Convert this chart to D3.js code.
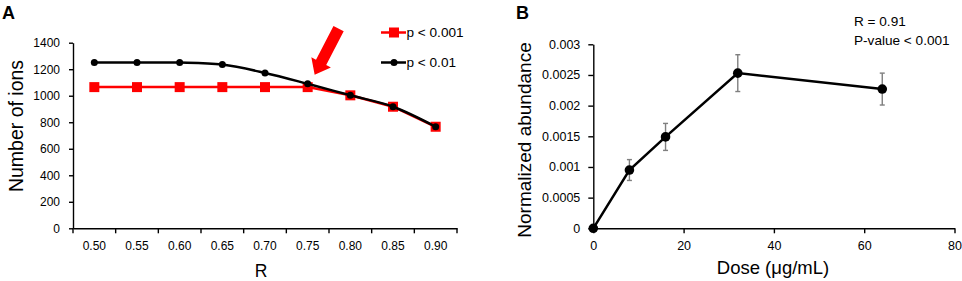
<!DOCTYPE html>
<html lang="en">
<head>
<meta charset="UTF-8">
<title>Ions vs R, abundance vs dose</title>
<script src="https://d3js.org/d3.v7.min.js"></script>
<style>
  body { margin: 0; background: #fff; }
  svg { display: block; font-family: "Liberation Sans", Arial, sans-serif; }
  .axis path, .axis line { stroke: #000; stroke-width: 1.4; }
  .axis text { fill: #000; }
</style>
</head>
<body>
<svg id="chart" width="962" height="281"></svg>
<script>
// ---- panel A data ----
const rLabels = ["0.50", "0.55", "0.60", "0.65", "0.70", "0.75", "0.80", "0.85", "0.90"];
const ionsP001 = [1065, 1065, 1065, 1065, 1065, 1065, 1003, 917, 766];
const ionsP01 = [1250, 1250, 1250, 1235, 1172, 1090, 1003, 917, 766];
const ionTicks = [0, 200, 400, 600, 800, 1000, 1200, 1400];
const legendA = ["p < 0.001", "p < 0.01"];

// ---- panel B data ----
const doses = [0, 8, 16, 32, 64];
const abundance = [0, 0.00095, 0.00149, 0.00253, 0.00227];
const abundanceErr = [0, 0.00017, 0.00022, 0.0003, 0.00026];
const doseTicks = [0, 20, 40, 60, 80];
const abundanceTicks = [0, 0.0005, 0.001, 0.0015, 0.002, 0.0025, 0.003];
const abundanceTickLabels = ["0", "0.0005", "0.001", "0.0015", "0.002", "0.0025", "0.003"];
const statsB = ["R = 0.91", "P-value < 0.001"];

const svg = d3.select("#chart");

// ================= Panel A =================
const xA = d3.scaleBand().domain(rLabels).range([73, 457]);
const yA = d3.scaleLinear().domain([0, 1400]).range([228.3, 42.7]);
const cx = d => xA(d) + xA.bandwidth() / 2;

svg.append("text").attr("x", 2).attr("y", 19)
  .attr("font-size", 18).attr("font-weight", "bold").text("A");

svg.append("g").attr("class", "axis")
  .attr("transform", "translate(73,0)")
  .call(d3.axisLeft(yA).tickValues(ionTicks).tickFormat(d3.format("d"))
    .tickSize(4).tickSizeOuter(0).tickPadding(9))
  .selectAll("text").attr("font-size", 12);

const gxA = svg.append("g").attr("class", "axis")
  .attr("transform", "translate(0,228.3)")
  .call(d3.axisBottom(xA).tickSize(0).tickSizeOuter(0).tickPadding(13));
gxA.selectAll("text").attr("font-size", 12);
// ticks sit between categories, like the original
const edges = rLabels.map(d => xA(d)).concat([xA.range()[1]]);
gxA.selectAll("line.edge").data(edges).join("line")
  .attr("class", "edge")
  .attr("x1", d => d).attr("x2", d => d)
  .attr("y1", 0).attr("y2", 5);

svg.append("text").attr("x", 261).attr("y", 277)
  .attr("text-anchor", "middle").attr("font-size", 17.5).text("R");

svg.append("text")
  .attr("transform", "translate(23,126) rotate(-90)")
  .attr("text-anchor", "middle").attr("font-size", 19.5).text("Number of ions");

// red series, straight
svg.append("path").datum(ionsP001)
  .attr("fill", "none").attr("stroke", "#ff0000").attr("stroke-width", 2.5)
  .attr("d", d3.line().x((d, i) => cx(rLabels[i])).y(d => yA(d)));
svg.selectAll("rect.p001").data(ionsP001).join("rect")
  .attr("class", "p001")
  .attr("x", (d, i) => cx(rLabels[i]) - 5).attr("y", d => yA(d) - 5)
  .attr("width", 10).attr("height", 10).attr("fill", "#ff0000");

// black series, smoothed
svg.append("path").datum(ionsP01)
  .attr("fill", "none").attr("stroke", "#000").attr("stroke-width", 2.5)
  .attr("d", d3.line().curve(d3.curveCatmullRom.alpha(0.5))
    .x((d, i) => cx(rLabels[i])).y(d => yA(d)));
svg.selectAll("circle.p01").data(ionsP01).join("circle")
  .attr("class", "p01")
  .attr("cx", (d, i) => cx(rLabels[i])).attr("cy", d => yA(d))
  .attr("r", 3.5).attr("fill", "#000");

// legend
const leg = svg.append("g");
[0, 1].forEach(i => {
  const y = 32.5 + i * 30;
  const col = i === 0 ? "#ff0000" : "#000";
  leg.append("line").attr("x1", 381).attr("x2", 406).attr("y1", y).attr("y2", y)
    .attr("stroke", col).attr("stroke-width", 2.5);
  if (i === 0) {
    leg.append("rect").attr("x", 389).attr("y", y - 5).attr("width", 10).attr("height", 10).attr("fill", col);
  } else {
    leg.append("circle").attr("cx", 394).attr("cy", y).attr("r", 3.5).attr("fill", col);
  }
  leg.append("text").attr("x", 406.5).attr("y", y + 4.5)
    .attr("font-size", 13.6).text(legendA[i]);
});

// red arrow pointing at the R = 0.75 point
const tip = [cx("0.75") + 7, yA(ionsP01[5]) - 9];
const L = 52, w = 11.5, H = 22, h = 14;
svg.append("path")
  .attr("transform", `translate(${tip[0]},${tip[1]}) rotate(117.4)`)
  .attr("d", `M${-L},${-w / 2}L${-h},${-w / 2}L${-h},${-H / 2}L0,0L${-h},${H / 2}L${-h},${w / 2}L${-L},${w / 2}Z`)
  .attr("fill", "#ff0000");

// ================= Panel B =================
const xB = d3.scaleLinear().domain([0, 80]).range([593.3, 954.5]);
const yB = d3.scaleLinear().domain([0, 0.003]).range([228.3, 44.3]);

svg.append("text").attr("x", 516).attr("y", 18.5)
  .attr("font-size", 18).attr("font-weight", "bold").text("B");

svg.append("g").attr("class", "axis")
  .attr("transform", "translate(593.3,0)")
  .call(d3.axisLeft(yB).tickValues(abundanceTicks)
    .tickFormat((d, i) => abundanceTickLabels[i])
    .tickSize(5).tickSizeOuter(0).tickPadding(8))
  .selectAll("text").attr("font-size", 12.5);

svg.append("g").attr("class", "axis")
  .attr("transform", "translate(0,228.3)")
  .call(d3.axisBottom(xB).tickValues(doseTicks).tickFormat(d3.format("d"))
    .tickSize(5).tickSizeOuter(0).tickPadding(8))
  .selectAll("text").attr("font-size", 12.5);

svg.append("text").attr("x", 773).attr("y", 274)
  .attr("text-anchor", "middle").attr("font-size", 18.5).text("Dose (μg/mL)");

svg.append("text")
  .attr("transform", "translate(531,140) rotate(-90)")
  .attr("text-anchor", "middle").attr("font-size", 19).text("Normalized abundance");

// error bars
const eb = svg.append("g").attr("stroke", "#7f7f7f").attr("stroke-width", 1.4);
doses.forEach((d, i) => {
  if (!abundanceErr[i]) return;
  const x = xB(d), y0 = yB(abundance[i] - abundanceErr[i]), y1 = yB(abundance[i] + abundanceErr[i]);
  eb.append("line").attr("x1", x).attr("x2", x).attr("y1", y0).attr("y2", y1);
  eb.append("line").attr("x1", x - 2.5).attr("x2", x + 2.5).attr("y1", y0).attr("y2", y0);
  eb.append("line").attr("x1", x - 2.5).attr("x2", x + 2.5).attr("y1", y1).attr("y2", y1);
});

svg.append("path").datum(abundance)
  .attr("fill", "none").attr("stroke", "#000").attr("stroke-width", 2.5)
  .attr("d", d3.line().x((d, i) => xB(doses[i])).y(d => yB(d)));
svg.selectAll("circle.dose").data(abundance).join("circle")
  .attr("class", "dose")
  .attr("cx", (d, i) => xB(doses[i])).attr("cy", d => yB(d))
  .attr("r", 4.8).attr("fill", "#000");

statsB.forEach((t, i) => {
  svg.append("text").attr("x", 854).attr("y", 26 + i * 18.5)
    .attr("font-size", 13.6).text(t);
});
</script>
</body>
</html>
